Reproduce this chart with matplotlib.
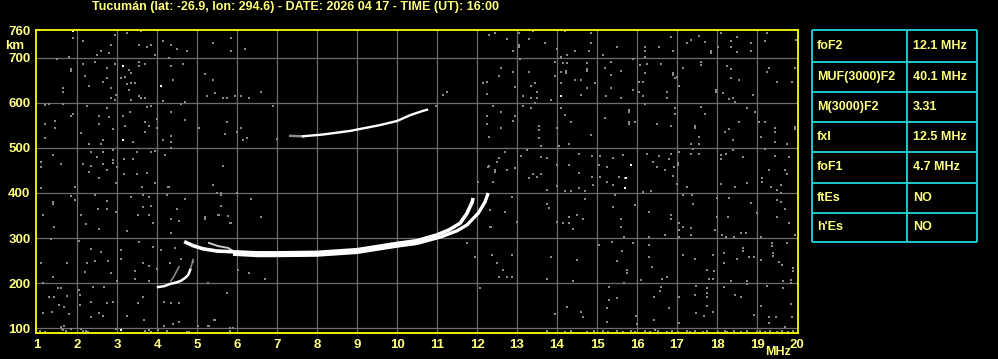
import matplotlib
matplotlib.use('Agg')
import matplotlib.pyplot as plt

plt.rcParams['font.family'] = ['Liberation Sans', 'DejaVu Sans']
plt.rcParams['font.weight'] = 'bold'

title = 'Tucumán (lat: -26.9, lon: 294.6) - DATE: 2026 04 17 - TIME (UT): 16:00'

# ordinary F trace
o_freq = [4.68, 4.9, 5.15, 5.5, 6.0, 6.5, 7.0, 8.0, 9.0, 10.0, 10.5, 11.0, 11.3, 11.58, 11.75, 11.88, 11.9]
o_height = [292, 283, 276, 271, 269, 267, 267, 268, 274, 288, 294, 307, 318, 333, 355, 380, 389]

# extraordinary F trace
x_freq = [5.9, 6.5, 7.0, 8.0, 9.0, 10.0, 10.5, 11.08, 11.5, 11.75, 12.03, 12.2, 12.28]
x_height = [264, 261, 261, 262, 268, 282, 288, 302, 316, 329, 355, 380, 400]

# small branch near the start of F trace
b_freq = [5.3, 5.53, 5.78, 5.9]
b_height = [289, 282, 278, 271]

# low (F1 cusp) trace
low_freq = [4.03, 4.18, 4.33, 4.48, 4.6, 4.7, 4.78, 4.83]
low_height = [191, 193, 198, 201, 205, 211, 218, 229]
low2_freq = [4.35, 4.42, 4.5, 4.55]
low2_height = [205, 214, 228, 236]

# second hop trace
f2_freq = [7.33, 7.65, 8.15, 8.83, 9.58, 10.0, 10.33, 10.63, 10.75]
f2_height = [527, 526, 530, 538, 551, 560, 573, 582, 585]

# scattered noise (freq MHz, height km)
noise = [
    (1.9, 744), (2.15, 738), (2.95, 751), (3.25, 756), (3.6, 760), (4.15, 738), (4.35, 729), (3.85, 729),
    (3.75, 724), (3.55, 729), (2.85, 729), (2.6, 716), (2.5, 707), (2.8, 711), (3.95, 707), (4.3, 700),
    (4.5, 720), (4.75, 716), (5.4, 733), (5.85, 744), (5.85, 716), (6.2, 720), (1.8, 702), (1.5, 698),
    (1.85, 671), (1.85, 676), (2.15, 687), (2.45, 691), (2.75, 678), (2.95, 687), (3.15, 682), (3.3, 673),
    (3.35, 667), (3.55, 691), (3.7, 687), (3.55, 682), (4.35, 682), (4.65, 687), (2.2, 660), (2.75, 656),
    (3.1, 656), (3.2, 658), (3.35, 644), (3.45, 644), (3.25, 642), (2.65, 647), (2.3, 638), (2.85, 633),
    (1.65, 633), (1.65, 624), (3.3, 629), (4.4, 651), (5.2, 664), (5.4, 651), (5.45, 622), (2.98, 618),
    (2.85, 611), (2.95, 607), (3.35, 607), (3.55, 616), (3.6, 611), (3.7, 611), (4.15, 604), (4.6, 598),
    (4.7, 602), (5.25, 616), (5.65, 611), (5.75, 611), (5.95, 616), (6.1, 616), (6.3, 611), (6.6, 624),
    (6.9, 593), (1.2, 596), (1.3, 598), (1.65, 598), (2.25, 593), (2.75, 589), (3.33, 580), (3.75, 591),
    (3.85, 593), (4.35, 580), (1.85, 571), (1.9, 575), (2.55, 571), (2.8, 569), (3.15, 571), (4.0, 564),
    (4.7, 562), (1.45, 560), (1.2, 553), (2.55, 553), (3.2, 549), (3.7, 558), (3.8, 549), (4.0, 544),
    (5.05, 544), (1.45, 544), (2.9, 542), (5.75, 558), (6.1, 544), (2.1, 533), (3.7, 536), (4.35, 527),
    (5.7, 531), (6.0, 536), (6.25, 522), (6.15, 518), (7.0, 520), (1.2, 522), (2.65, 518), (3.4, 513),
    (2.3, 509), (2.6, 509), (4.15, 518), (4.35, 513), (4.35, 500), (2.9, 496), (3.95, 493), (4.2, 484),
    (3.85, 491), (1.4, 484), (2.35, 491), (2.5, 480), (2.65, 491), (3.18, 476), (3.4, 476), (3.5, 491),
    (2.9, 473), (1.1, 469), (1.1, 458), (1.6, 464), (2.15, 464), (2.35, 460), (2.65, 464), (2.9, 467),
    (3.0, 458), (2.75, 451), (2.3, 447), (2.55, 433), (3.18, 442), (3.5, 442), (3.75, 444), (5.65, 460),
    (12.3, 751), (12.45, 756), (12.75, 742), (13.05, 756), (13.4, 760), (13.3, 742), (13.05, 724),
    (13.05, 729), (12.9, 716), (13.08, 698), (12.6, 678), (12.55, 660), (12.9, 669), (13.3, 669),
    (12.15, 644), (12.25, 647), (12.95, 636), (13.35, 638), (13.45, 644), (13.5, 624), (12.25, 620),
    (13.15, 616), (13.35, 611), (13.5, 611), (11.15, 618), (11.25, 624), (13.45, 600), (12.4, 593),
    (13.15, 593), (13.35, 589), (10.98, 593), (12.6, 580), (12.25, 571), (12.95, 571), (12.9, 560),
    (12.25, 553), (13.55, 549), (12.6, 544), (13.55, 540), (13.55, 522), (12.3, 524), (13.6, 504),
    (13.25, 496), (12.7, 491), (13.1, 482), (13.6, 480), (12.55, 478), (12.5, 469), (12.3, 460),
    (12.45, 451), (12.75, 451), (12.95, 456), (13.4, 442), (13.3, 433), (13.5, 436), (13.6, 442),
    (14.2, 760), (14.85, 756), (13.7, 733), (14.0, 720), (14.1, 702), (14.25, 707), (14.45, 716),
    (14.8, 716), (14.85, 733), (15.5, 724), (15.15, 707), (16.2, 724), (16.2, 716), (16.55, 724),
    (16.2, 702), (16.85, 747), (16.9, 716), (17.25, 733), (17.35, 740), (17.55, 749), (17.7, 736),
    (17.85, 716), (17.85, 711), (18.03, 724), (18.1, 756), (18.35, 738), (18.5, 747), (18.35, 724),
    (18.5, 713), (18.85, 733), (18.85, 716), (19.2, 738), (19.25, 756), (19.98, 740), (13.95, 691),
    (14.15, 689), (14.25, 689), (14.22, 667), (14.22, 671), (14.75, 689), (14.75, 671), (14.75, 676),
    (13.95, 660), (14.1, 669), (14.45, 651), (14.6, 651), (14.95, 644), (14.75, 633), (14.6, 618),
    (14.1, 644), (13.85, 607), (15.35, 691), (15.2, 678), (15.6, 671), (15.35, 662), (15.35, 633),
    (15.23, 616), (15.6, 611), (15.9, 629), (15.9, 698), (16.08, 684), (16.25, 687), (16.6, 687),
    (16.2, 667), (16.05, 647), (16.15, 647), (16.05, 624), (16.15, 616), (16.2, 598), (16.75, 624),
    (16.75, 611), (16.9, 667), (16.9, 662), (16.95, 656), (17.0, 658), (17.05, 638), (17.15, 678),
    (17.6, 691), (17.6, 684), (17.98, 624), (17.98, 629), (18.15, 622), (18.25, 682), (18.35, 676),
    (18.35, 656), (18.55, 651), (18.3, 609), (18.4, 611), (18.45, 602), (18.9, 618), (19.25, 669),
    (19.3, 678), (19.5, 647), (19.88, 647), (19.95, 678), (14.1, 589), (14.2, 573), (14.35, 558),
    (14.0, 544), (14.85, 529), (14.05, 504), (14.3, 509), (15.2, 567), (15.8, 580), (15.8, 585),
    (15.8, 558), (15.8, 553), (15.95, 558), (16.5, 553), (16.85, 549), (16.95, 589), (16.95, 576),
    (17.45, 549), (17.45, 544), (17.6, 591), (17.7, 576), (17.55, 524), (17.35, 509), (17.55, 509),
    (18.2, 536), (18.3, 542), (18.4, 518), (18.55, 558), (18.75, 589), (18.95, 580), (19.05, 558),
    (19.2, 558), (19.1, 524), (19.45, 544), (19.45, 536), (19.45, 513), (19.75, 509), (19.95, 547),
    (19.95, 542), (13.75, 478), (14.0, 462), (14.55, 487), (14.3, 462), (14.55, 444), (14.88, 482),
    (14.88, 436), (15.08, 482), (15.05, 462), (15.25, 458), (15.4, 478), (15.65, 484), (15.7, 433),
    (15.08, 436), (15.55, 436), (16.25, 487), (16.4, 469), (16.55, 482), (16.8, 476), (16.85, 487),
    (16.5, 458), (16.7, 451), (16.93, 458), (16.9, 438), (17.03, 467), (17.03, 462), (17.05, 491),
    (17.35, 487), (17.55, 487), (17.4, 498), (18.1, 484), (18.23, 487), (18.1, 476), (18.4, 496),
    (18.65, 480), (19.2, 498), (19.45, 482), (19.8, 480), (19.3, 451), (19.7, 451), (19.75, 442),
    (19.13, 433),
    (1.1, 411), (1.95, 413), (2.98, 422), (3.63, 413), (3.95, 422), (4.3, 413), (5.4, 418), (1.4, 376),
    (1.4, 380), (1.85, 393), (1.95, 384), (2.45, 396), (2.75, 382), (3.35, 391), (3.65, 396), (3.8, 391),
    (3.85, 371), (3.65, 369), (4.25, 396), (4.5, 364), (1.15, 351), (2.1, 351), (2.53, 364), (2.75, 364),
    (2.98, 358), (3.53, 351), (3.8, 351), (3.9, 333), (4.35, 342), (4.55, 338), (1.43, 324), (2.23, 331),
    (2.55, 320), (3.25, 316), (4.35, 311), (5.2, 342), (5.55, 351), (5.78, 349), (5.85, 333), (5.6, 396),
    (5.6, 371), (6.6, 347), (1.35, 298), (2.05, 293), (2.35, 276), (2.6, 269), (3.1, 273), (3.55, 291),
    (3.9, 280), (4.1, 273), (4.45, 278), (1.1, 244), (1.75, 244), (2.25, 244), (2.45, 249), (2.78, 249),
    (3.1, 253), (3.65, 244), (3.8, 238), (4.0, 231), (4.33, 244), (4.6, 253), (4.9, 247), (1.4, 213),
    (2.2, 224), (2.85, 222), (3.0, 204), (3.45, 227), (3.45, 209), (3.8, 204), (6.03, 229), (6.3, 222),
    (6.7, 209), (1.15, 200), (1.53, 189), (1.6, 189), (2.05, 184), (2.4, 191), (2.68, 191), (1.43, 169),
    (1.3, 169), (1.75, 171), (1.55, 151), (1.68, 147), (2.08, 173), (2.08, 151), (2.35, 158), (2.75, 156),
    (2.9, 158), (3.65, 169), (3.53, 156), (4.18, 158), (4.35, 156), (4.55, 156), (1.15, 133), (1.38, 136),
    (1.8, 131), (2.35, 124), (2.55, 133), (2.65, 127), (3.25, 127), (3.68, 118), (4.18, 104), (4.4, 109),
    (4.55, 113), (5.43, 118), (5.3, 104), (1.6, 102), (1.68, 104), (1.62, 98), (1.65, 95), (1.85, 98),
    (2.1, 98), (2.23, 93), (2.98, 98), (3.8, 96), (4.8, 91), (5.03, 104), (5.9, 100),
    (1.08, 93), (1.2, 91), (1.72, 93), (2.15, 93), (2.28, 91), (3.7, 93), (3.85, 91), (4.03, 95),
    (4.25, 93), (4.75, 91), (5.83, 93), (5.28, 104), (5.45, 118), (5.83, 100),
    (3.95, 422), (4.28, 413), (4.7, 387), (5.6, 400), (5.5, 400), (6.0, 400), (6.35, 387), (5.53, 351),
    (5.83, 333), (5.2, 347), (5.28, 200), (5.75, 178),
    (12.28, 458), (12.45, 447), (12.03, 424), (12.4, 424), (12.33, 362), (12.33, 324), (11.75, 289),
    (12.38, 262), (11.95, 258), (12.5, 244), (12.55, 213), (12.08, 189), (12.7, 358), (12.88, 391),
    (13.0, 336), (12.35, 324), (12.88, 262), (12.65, 229), (12.75, 213), (12.88, 213),
    (13.75, 407), (14.0, 416), (14.2, 404), (14.35, 404), (14.55, 411), (14.7, 404), (14.9, 418),
    (15.25, 424), (15.4, 418), (16.15, 402), (16.35, 404), (17.0, 420), (17.25, 413), (17.15, 396),
    (17.38, 396), (18.1, 420), (18.45, 413), (18.75, 422), (19.13, 424), (19.35, 413), (19.5, 407),
    (19.6, 418), (19.6, 400), (14.7, 387), (15.45, 396), (15.4, 369), (15.95, 373), (13.8, 367),
    (13.75, 376), (17.4, 376), (18.0, 389), (18.3, 389), (18.85, 378), (19.5, 384), (19.6, 380),
    (19.0, 356), (19.7, 364), (16.3, 358), (16.85, 351), (16.85, 342), (15.6, 342), (15.6, 324),
    (14.3, 347), (14.5, 351), (14.65, 342), (14.15, 333), (14.3, 333), (14.4, 320), (14.0, 336),
    (17.05, 333), (17.05, 318), (17.15, 324), (17.35, 322), (17.05, 302), (17.35, 307), (17.95, 318),
    (18.0, 347), (18.28, 347), (18.6, 311), (18.73, 311), (19.5, 347), (19.8, 333), (19.95, 307),
    (16.7, 307), (15.68, 302), (16.3, 302), (18.13, 307), (18.23, 302), (18.43, 302), (19.1, 302),
    (19.38, 289), (19.38, 282), (19.75, 289), (15.05, 284), (15.38, 291), (15.9, 289), (16.3, 284),
    (13.85, 258), (14.5, 251), (15.5, 249), (15.63, 271), (16.3, 258), (17.15, 262), (17.45, 253),
    (17.9, 262), (18.18, 267), (18.18, 244), (18.5, 253), (18.65, 278), (18.65, 271), (18.8, 258),
    (18.93, 258), (19.1, 251), (19.4, 267), (19.4, 260), (19.55, 247), (19.63, 240), (19.9, 233),
    (19.9, 226), (15.75, 229), (15.75, 222), (16.38, 236), (17.75, 229), (17.93, 227), (13.75, 209),
    (14.4, 204), (16.1, 207), (16.63, 209), (16.75, 213), (17.8, 209), (17.9, 209), (18.35, 204),
    (18.75, 204), (19.65, 204), (19.85, 207), (19.85, 200), (15.3, 191), (15.68, 200), (16.6, 191),
    (16.58, 182), (17.48, 193), (17.75, 189), (17.75, 178), (17.45, 173), (18.18, 191), (18.75, 198),
    (19.25, 193), (19.65, 189), (16.43, 169), (17.05, 169), (17.75, 169), (18.45, 173), (18.6, 169),
    (15.3, 162), (15.5, 167), (14.25, 147), (14.6, 136), (15.25, 144), (16.8, 144), (17.75, 149),
    (19.1, 149), (19.85, 153), (13.95, 131), (14.65, 124), (15.98, 127), (17.48, 133), (17.68, 127),
    (17.9, 136), (18.93, 129), (19.3, 124), (19.48, 124), (19.88, 124), (16.43, 118), (15.25, 113),
    (16.0, 109), (17.05, 111), (19.3, 111), (19.7, 102),
    (13.74, 93), (14.19, 91), (14.34, 93), (14.74, 91), (14.93, 93), (15.15, 93), (15.28, 91),
    (15.51, 93), (15.65, 91), (15.84, 93), (15.95, 91), (16.2, 93), (16.33, 91), (16.45, 95),
    (16.53, 93), (16.75, 91), (16.88, 93), (17.03, 91), (17.25, 93), (17.33, 91), (17.45, 93),
    (17.65, 91), (17.75, 93), (18.03, 91), (18.2, 93), (18.25, 91), (18.43, 93), (18.59, 91),
    (18.75, 93), (19.0, 91), (19.08, 93), (19.2, 91), (19.33, 93), (19.51, 91), (19.63, 93),
    (19.78, 91), (19.9, 93),
]

# brighter noise pixels
bright = [(1.9, 760), (3.15, 682), (4.1, 638), (3.15, 518), (14.1, 616), (15.85, 462), (15.7, 411),
          (15.72, 433), (3.1, 96)]

table_labels = ['foF2', 'MUF(3000)F2', 'M(3000)F2', 'fxI', 'foF1', 'ftEs', "h'Es"]
table_values = ['12.1 MHz', '40.1 MHz', '3.31', '12.5 MHz', '4.7 MHz', 'NO', 'NO']

YEL = '#ffff80'
GRID = '#6c6c6c'
NOISE = '#8a8a8a'

W, H = 998, 359
fig = plt.figure(figsize=(W / 100, H / 100), dpi=100, facecolor='black')
ax = fig.add_axes([36 / W, 1 - 333 / H, 762 / W, 303 / H])
ax.set_facecolor('black')
ax.set_xlim(0.975, 20.025)
ax.set_ylim(88.9, 762.2)

ax.vlines(range(2, 20), 88.9, 762.2, color=GRID, lw=0.9, zorder=1)
ax.hlines(range(100, 800, 100), 0.975, 20.025, color=GRID, lw=0.9, zorder=1)

nf = [p[0] for p in noise]
nh = [p[1] for p in noise]
ax.plot(nf, nh, 's', color=NOISE, ms=1.9, mew=0, zorder=2)
ax.plot([p[0] for p in bright], [p[1] for p in bright], 's', color='white', ms=1.9, mew=0, zorder=2)

ax.plot(o_freq, o_height, color='white', lw=2.6, zorder=4, solid_capstyle='butt')
ax.plot(x_freq, x_height, color='white', lw=2.4, zorder=4, solid_capstyle='butt')
ax.plot(b_freq, b_height, color='#c8c8c8', lw=1.4, zorder=3)
ax.plot(low_freq, low_height, color='white', lw=1.8, zorder=4)
ax.plot([4.83, 4.88, 4.9], [229, 245, 252], color=NOISE, lw=1.2, zorder=3)
ax.plot(low2_freq, low2_height, color=NOISE, lw=1.2, zorder=3)
ax.plot(f2_freq[:2], f2_height[:2], color=NOISE, lw=1.8, zorder=3)
ax.plot(f2_freq[1:], f2_height[1:], color='white', lw=1.7, zorder=4)

for s in ax.spines.values():
    s.set_color('#ffff00')
    s.set_linewidth(1.3)
ax.set_xticks(range(1, 21))
ax.set_yticks([100, 200, 300, 400, 500, 600, 700, 760])
ax.tick_params(length=0, labelcolor=YEL, labelsize=9.5, pad=4)

fig.text(295 / W, 1 - 7 / H, title, color=YEL, fontsize=9, ha='center', va='center')
fig.text(15 / W, 1 - 46 / H, 'km', color=YEL, fontsize=9.5, ha='center', va='center')
fig.text(778 / W, 1 - 352 / H, 'MHz', color=YEL, fontsize=9, ha='center', va='center')

# parameter table
tab = fig.add_axes([0, 0, 1, 1])
tab.set_xlim(0, W)
tab.set_ylim(H, 0)
tab.axis('off')
rows = [30, 62, 92, 122, 152, 183, 213, 242]
CY = '#22d4dc'
tab.hlines(rows, 812, 977, color=CY, lw=1.3)
tab.vlines([812, 907, 977], 30, 242, color=CY, lw=1.3)
for i, (lab, val) in enumerate(zip(table_labels, table_values)):
    yc = (rows[i] + rows[i + 1]) / 2
    tab.text(817, yc, lab, color=YEL, fontsize=9, va='center', ha='left')
    tab.text(913, yc, val, color=YEL, fontsize=9, va='center', ha='left')

fig.savefig('out.png', dpi=100, facecolor='black')
